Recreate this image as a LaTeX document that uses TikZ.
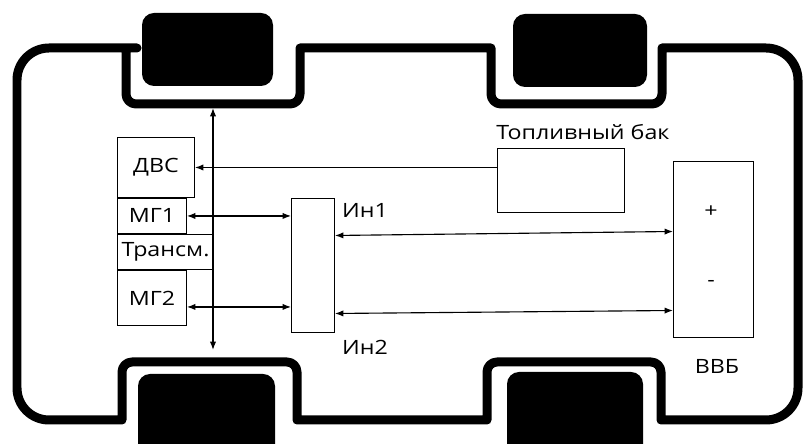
\documentclass[tikz,border=0pt]{standalone}
\usepackage{fontspec}
\setmainfont{Open Sans}[FakeStretch=1.18]
\usetikzlibrary{arrows.meta,positioning,calc}
\newcommand\pu{0.025cm}

\begin{document}
\begin{tikzpicture}[
      x=0.025cm, y=-0.025cm,
      blk/.style={
        draw=black,
        line width=0.7pt,
        inner sep=1pt,
        anchor=north west,
        font=\fontsize{14}{16}\selectfont
      },
      lbl/.style={
        inner sep=0pt,
        font=\fontsize{14}{16}\selectfont
      },
      body/.style={
        line width=6.4pt,
        line join=round
      },
      wheel/.style={
        fill=black,
        rounded corners=0.3cm
      },
      arr/.style={
        -{Latex[length=6pt,width=4.5pt]},
        line width=0.8pt
      },
      darr/.style={
        {Latex[length=6pt,width=4.5pt]}-{Latex[length=6pt,width=4.5pt]},
        line width=0.8pt
      }
    ]

    \clip (0,0) rectangle (805,444);
    \useasboundingbox (0,0) rectangle (805,444);

    % wheels
    \fill[wheel] (142,13) rectangle (273,86);
    \fill[wheel] (513,14) rectangle (647,87);
    \fill[wheel] (138,374) rectangle (275,470);
    \fill[wheel] (507,372) rectangle (643,470);

    % body
    \draw[body] (400,48) -- (491,48) -- (491,70)
      [rounded corners=0.25cm] -- (491,104) -- (662,104) -- (662,70)
      [sharp corners] -- (662,48) -- (710,48)
      [rounded corners=0.8cm] -- (798,48) -- (798,420) -- (710,420)
      [sharp corners] -- (661,420) -- (661,400)
      [rounded corners=0.25cm] -- (661,362) -- (487,362) -- (487,400)
      [sharp corners] -- (487,420) -- (297,420) -- (297,400)
      [rounded corners=0.25cm] -- (297,362) -- (122,362) -- (122,400)
      [sharp corners] -- (122,420) -- (105,420)
      [rounded corners=0.8cm] -- (17,420) -- (17,48) -- (105,48)
      [sharp corners] -- (126,48) -- (126,70)
      [rounded corners=0.25cm] -- (126,104) -- (300,104) -- (300,70)
      [sharp corners] -- (300,48) -- cycle;

    % units
    \node[blk, minimum width=77*\pu, minimum height=60*\pu] (dvs)
      at (117,137) {ДВС};
    \node[blk, minimum width=69*\pu, minimum height=35*\pu] (mg1)
      at (dvs.south west) {МГ1};
    \node[blk, minimum width=96*\pu, minimum height=35*\pu] (trans)
      at (mg1.south west) {Трансм.};
    \node[blk, minimum width=69*\pu, minimum height=55*\pu] (mg2)
      at (trans.south west) {МГ2};

    \node[blk, minimum width=43*\pu, minimum height=134*\pu] (inv)
      at (291,198) {};
    \node[blk, minimum width=127*\pu, minimum height=64*\pu] (tank)
      at (497,148) {};
    \node[blk, minimum width=80*\pu, minimum height=176*\pu] (bat)
      at (673,161) {};

    \node[lbl] (tanklbl) at (583,132) {Топливный бак};
    \node[lbl] (in1) at (365,210) {Ин1};
    \node[lbl] (in2) at (365,347) {Ин2};
    \node[lbl] (batlbl) at (717,366) {ВВБ};
    \node[lbl] (plus) at (711,212) {+};
    \node[lbl] (minus) at (711,284) {-};

    % axle
    \coordinate (axf) at (213,108);
    \coordinate (axr) at (213,350);
    \draw[darr] (axf) -- (axr);

    \draw[arr] (tank.west |- dvs.east) -- (dvs.east);
    \draw[darr] (mg1.east) -- (mg1.east -| inv.west);
    \draw[darr] ([yshift=-9*\pu]mg2.east)
      -- ([yshift=-9*\pu]mg2.east -| inv.west);

    \draw[darr] ([yshift=30*\pu]inv.east) -- ([yshift=18*\pu]bat.west);
    \draw[darr] ([yshift=-48*\pu]inv.east) -- ([yshift=-61*\pu]bat.west);

  \end{tikzpicture}
\end{document}
